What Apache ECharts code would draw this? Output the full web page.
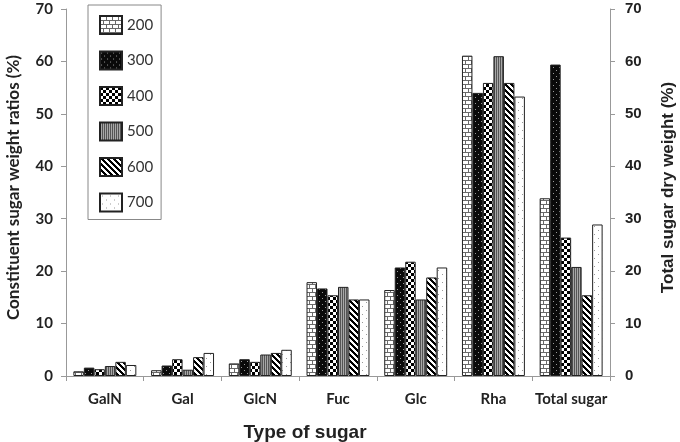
<!DOCTYPE html>
<html>
<head>
<meta charset="utf-8">
<script src="https://cdn.jsdelivr.net/npm/echarts@6/dist/echarts.min.js"></script>
<style>
html,body{margin:0;padding:0;background:#fff;}
#chart{width:680px;height:442px;}
</style>
</head>
<body>
<div id="chart"></div>
<script>
const categories = ['GalN', 'Gal', 'GlcN', 'Fuc', 'Glc', 'Rha', 'Total sugar'];
const seriesNames = ['200', '300', '400', '500', '600', '700'];
const s200 = [0.9, 1.1, 2.4, 17.9, 16.4, 61.1, 33.9];
const s300 = [1.6, 2.0, 3.2, 16.7, 20.7, 54.0, 59.4];
const s400 = [1.3, 3.2, 2.7, 15.4, 21.8, 55.9, 26.4];
const s500 = [1.9, 1.2, 4.1, 17.0, 14.6, 61.0, 20.8];
const s600 = [2.7, 3.6, 4.4, 14.6, 18.8, 55.9, 15.4];
const s700 = [2.1, 4.4, 5.0, 14.6, 20.7, 53.3, 28.9];
const yTicks = [0, 10, 20, 30, 40, 50, 60, 70];
const seriesValues = [s200, s300, s400, s500, s600, s700];

function makeCanvas(w, h, draw) {
  const c = document.createElement('canvas');
  c.width = w; c.height = h;
  const ctx = c.getContext('2d');
  draw(ctx, w, h);
  return c;
}
function px(ctx, x, y, col) { ctx.fillStyle = col; ctx.fillRect(x, y, 1, 1); }

const patterns = [
  // 200 brick
  makeCanvas(6, 8, (ctx, w, h) => {
    ctx.fillStyle = '#fff'; ctx.fillRect(0, 0, w, h);
    ctx.fillStyle = '#6a6a6a';
    ctx.fillRect(0, 0, w, 1); ctx.fillRect(0, 4, w, 1);
    ctx.fillRect(0, 1, 1, 3); ctx.fillRect(3, 5, 1, 3);
  }),
  // 300 black with light dots
  makeCanvas(6, 6, (ctx, w, h) => {
    ctx.fillStyle = '#0a0a0a'; ctx.fillRect(0, 0, w, h);
    px(ctx, 1, 1, '#9a9a9a'); px(ctx, 4, 4, '#9a9a9a');
  }),
  // 400 checker
  makeCanvas(6, 6, (ctx, w, h) => {
    ctx.fillStyle = '#fff'; ctx.fillRect(0, 0, w, h);
    ctx.fillStyle = '#000';
    ctx.fillRect(0, 0, 3, 3); ctx.fillRect(3, 3, 3, 3);
  }),
  // 500 vertical stripes
  makeCanvas(2, 2, (ctx, w, h) => {
    ctx.fillStyle = '#a8a8a8'; ctx.fillRect(0, 0, w, h);
    ctx.fillStyle = '#555'; ctx.fillRect(0, 0, 1, h);
  }),
  // 600 diagonal
  makeCanvas(6, 6, (ctx, w, h) => {
    ctx.fillStyle = '#fff'; ctx.fillRect(0, 0, w, h);
    for (let y = 0; y < h; y++) for (let x = 0; x < w; x++) {
      const m = ((x - y) % 6 + 6) % 6;
      if (m < 3) px(ctx, x, y, '#000');
    }
  }),
  // 700 sparse dots
  makeCanvas(8, 8, (ctx, w, h) => {
    ctx.fillStyle = '#fff'; ctx.fillRect(0, 0, w, h);
    px(ctx, 2, 2, '#9a9a9a'); px(ctx, 6, 6, '#9a9a9a');
  })
];

const chart = echarts.init(document.getElementById('chart'), null, {renderer: 'canvas'});

const series = seriesNames.map((name, i) => ({
  name: name,
  type: 'bar',
  data: seriesValues[i],
  barGap: '0%',
  barCategoryGap: '19%',
  itemStyle: {
    color: {image: patterns[i], repeat: 'repeat'},
    borderColor: '#222',
    borderWidth: 1
  }
}));

const axisLineStyle = {show: true, lineStyle: {color: '#999', width: 1}};
const axisTickStyle = {show: true, inside: false, length: 5, lineStyle: {color: '#999'}};

chart.setOption({
  animation: false,
  backgroundColor: '#fff',
  grid: {left: 66, right: 70, top: 9, bottom: 66, containLabel: false, outerBoundsMode: 'none'},
  legend: {
    orient: 'vertical',
    left: 88, top: 5,
    borderColor: '#888', borderWidth: 1,
    padding: [10, 8, 7, 11],
    itemWidth: 22, itemHeight: 18, itemGap: 15.5,
    icon: 'rect',
    textStyle: {fontFamily: 'Lato', fontSize: 15, color: '#333'},
    data: seriesNames
  },
  xAxis: {
    type: 'category',
    data: categories,
    axisLine: axisLineStyle,
    axisTick: axisTickStyle,
    axisLabel: {fontFamily: 'Lato', fontWeight: 'bold', fontSize: 15, color: '#222', margin: 16, interval: 0},
    name: 'Type of sugar',
    nameLocation: 'middle',
    nameGap: 47,
    nameTextStyle: {fontFamily: 'Liberation Sans', fontWeight: 'bold', fontSize: 19, color: '#222', padding: [0, 66, 0, 0]}
  },
  yAxis: [
    {
      type: 'value', position: 'left', min: 0, max: 70, interval: 10,
      axisLine: axisLineStyle, axisTick: axisTickStyle, splitLine: {show: false},
      axisLabel: {fontFamily: 'Lato', fontWeight: 'bold', fontSize: 15, color: '#222', margin: 13,
        formatter: v => yTicks.includes(v) ? String(v) : ''},
      name: 'Constituent sugar weight ratios (%)',
      nameLocation: 'middle', nameGap: 44,
      nameTextStyle: {fontFamily: 'Lato', fontWeight: 'bold', fontSize: 17, color: '#222', padding: [0, 0, 0, 10]}
    },
    {
      type: 'value', position: 'right', min: 0, max: 70, interval: 10,
      axisLine: axisLineStyle, axisTick: axisTickStyle, splitLine: {show: false},
      axisLabel: {fontFamily: 'Liberation Sans', fontWeight: 'bold', fontSize: 15, color: '#222', margin: 15,
        formatter: v => yTicks.includes(v) ? String(v) : ''},
      name: 'Total sugar dry weight (%)',
      nameLocation: 'middle', nameGap: 50,
      nameTextStyle: {fontFamily: 'Liberation Sans', fontWeight: 'bold', fontSize: 17, color: '#222', padding: [0, 0, 0, 10]}
    }
  ],
  series: series
});
</script>
</body>
</html>
